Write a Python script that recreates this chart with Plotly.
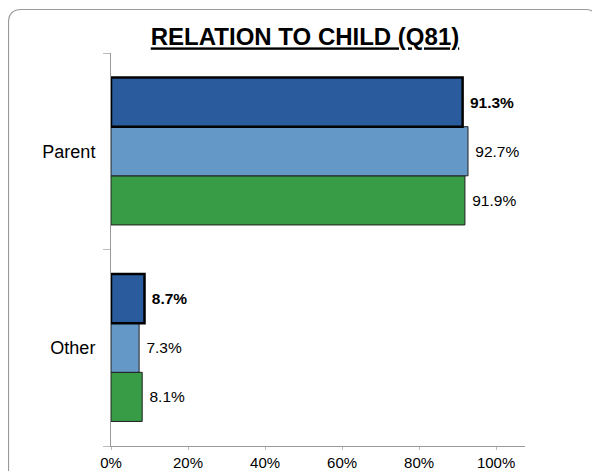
import plotly.graph_objects as go

categories = ["Other", "Parent"]
series_names = ["Series C", "Series B", "Series A"]
series_values = [
    [8.1, 91.9],   # green
    [7.3, 92.7],   # light blue
    [8.7, 91.3],   # dark blue (bold)
]
colors = ["#379C45", "#6499C7", "#2A5C9D"]
tick_vals = [0, 20, 40, 60, 80, 100]
tick_text = ["0%", "20%", "40%", "60%", "80%", "100%"]
title_text = "RELATION TO CHILD (Q81)"

# page has an 8px body margin; figure sized to fit the 600x471 viewport
OFF = 8
W, H = 600 - OFF, 471 - OFF
ML, MT = 111 - OFF, 53 - OFF
PW, PH = 414, 393
MR, MB = W - ML - PW, H - MT - PH

FONT = "Arial, Liberation Sans, sans-serif"

fig = go.Figure()
for i, (name, vals, col) in enumerate(zip(series_names, series_values, colors)):
    bold = i == 2
    fig.add_trace(go.Bar(
        y=categories, x=vals, name=name, orientation="h",
        marker=dict(color=col, line=dict(color="#000000" if bold else "#1f1f1f", width=2.5 if bold else 1)),
        text=vals,
        texttemplate="&nbsp;<b>%{x:.1f}%</b>" if bold else "&nbsp;%{x:.1f}%",
        textposition="outside",
        textfont=dict(family=FONT, size=15.5, color="#000"),
        cliponaxis=False,
    ))

def px2paper(x, y):
    # x, y in page pixels
    return (x - OFF - ML) / PW, 1 - (y - OFF - MT) / PH

def border_path(x0, y0, x1, y1, r):
    def P(x, y):
        a, b = px2paper(x, y)
        return f"{a:.5f},{b:.5f}"
    return (f"M {P(x0 + r, y0)} L {P(x1 - r, y0)} Q {P(x1, y0)} {P(x1, y0 + r)} "
            f"L {P(x1, y1 - r)} Q {P(x1, y1)} {P(x1 - r, y1)} "
            f"L {P(x0 + r, y1)} Q {P(x0, y1)} {P(x0, y1 - r)} "
            f"L {P(x0, y0 + r)} Q {P(x0, y0)} {P(x0 + r, y0)} Z")

fig.update_layout(
    width=W, height=H,
    margin=dict(l=ML, r=MR, t=MT, b=MB, pad=0, autoexpand=False),
    paper_bgcolor="white", plot_bgcolor="white",
    barmode="group", bargap=0.25, bargroupgap=0,
    showlegend=False,
    font=dict(family=FONT, color="#000"),
    title=dict(text=f"<b><u>{title_text}</u></b>", x=(305 - OFF) / W, xanchor="center",
               xref="container", y=1 - (37 - OFF) / H, yanchor="middle", automargin=False,
               font=dict(size=24, family=FONT, color="#000")),
    xaxis=dict(range=[0, 107.5], tickvals=tick_vals, ticktext=tick_text, automargin=False,
               showgrid=False, zeroline=False, showline=True, linecolor="#999999",
               linewidth=1, ticks="outside", ticklen=3, tickcolor="#bbbbbb",
               tickfont=dict(size=15, family=FONT, color="#000")),
    yaxis=dict(categoryorder="array", categoryarray=categories, automargin=False,
               showgrid=False, zeroline=False, showline=True, linecolor="#999999",
               linewidth=1, ticks="outside", ticklen=7, tickcolor="#bbbbbb",
               tickson="boundaries", ticklabelstandoff=11,
               tickfont=dict(size=18, family=FONT, color="#000")),
    shapes=[dict(type="path", xref="paper", yref="paper",
                 path=border_path(8.5, 9.5, 598, 490, 13),
                 line=dict(color="#9a9a9a", width=1.2), fillcolor="rgba(0,0,0,0)", layer="below")],
)

fig.write_html("out.html")
